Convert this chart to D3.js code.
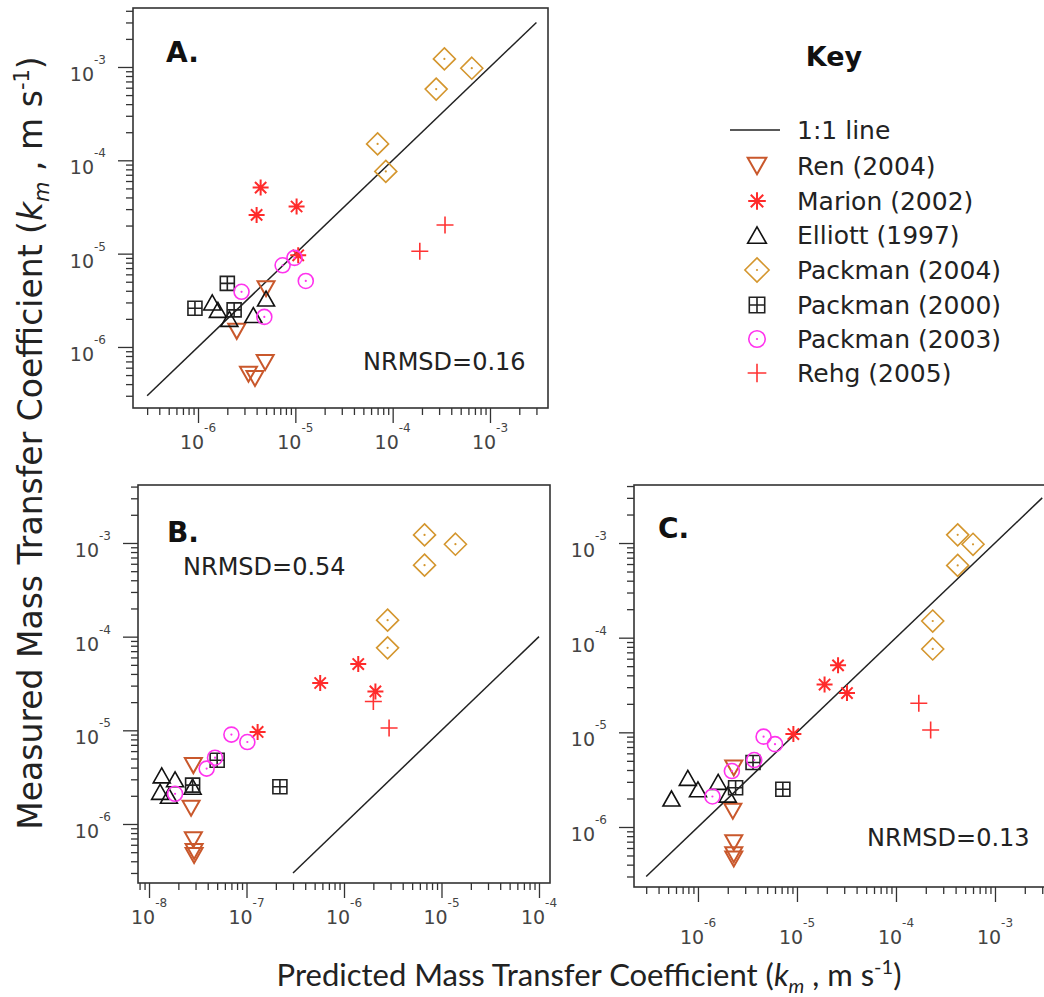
<!DOCTYPE html>
<html>
<head>
<meta charset="utf-8">
<script src="https://cdn.jsdelivr.net/npm/d3@7"></script>
<style>
body { margin: 0; background: #fff; }
svg { display: block; font-family: "DejaVu Sans", sans-serif; }
</style>
</head>
<body>
<svg id="chart" width="1044" height="997"></svg>
<script>
'use strict';

// studies shown in the key
var studies = ["Ren (2004)", "Marion (2002)", "Elliott (1997)", "Packman (2004)",
               "Packman (2000)", "Packman (2003)", "Rehg (2005)"];

// measured km (m/s) - same for every panel; predicted km for panels A, B, C
var renMeasured = [4.2e-6, 1.47e-6, 6.8e-7, 5.1e-7, 4.6e-7];
var renPredA = [5.0e-6, 2.5e-6, 4.9e-6, 3.3e-6, 3.85e-6];
var renPredB = [2.85e-8, 2.7e-8, 2.85e-8, 2.9e-8, 2.9e-8];
var renPredC = [2.3e-6, 2.25e-6, 2.3e-6, 2.3e-6, 2.3e-6];

var marionMeasured = [5.1e-5, 3.2e-5, 2.6e-5, 9.6e-6];
var marionPredA = [4.4e-6, 1.03e-5, 4.0e-6, 1.07e-5];
var marionPredB = [1.4e-6, 5.7e-7, 2.1e-6, 1.3e-7];
var marionPredC = [2.6e-5, 1.9e-5, 3.2e-5, 9.2e-6];

var elliottMeasured = [3.3e-6, 3.0e-6, 2.5e-6, 2.2e-6, 2.0e-6];
var elliottPredA = [5.0e-6, 1.4e-6, 1.6e-6, 3.7e-6, 2.1e-6];
var elliottPredB = [1.35e-8, 1.85e-8, 2.8e-8, 1.3e-8, 1.6e-8];
var elliottPredC = [7.9e-7, 1.6e-6, 1.0e-6, 2.0e-6, 5.4e-7];

var packman04Measured = [1.22e-3, 9.7e-4, 5.8e-4, 1.5e-4, 7.6e-5];
var packman04PredA = [3.4e-4, 6.5e-4, 2.8e-4, 7.0e-5, 8.5e-5];
var packman04PredB = [6.7e-6, 1.39e-5, 6.7e-6, 2.8e-6, 2.8e-6];
var packman04PredC = [4.2e-4, 6.0e-4, 4.2e-4, 2.35e-4, 2.35e-4];

var packman00Measured = [4.8e-6, 2.6e-6, 2.5e-6];
var packman00PredA = [2.0e-6, 9.3e-7, 2.35e-6];
var packman00PredB = [5.0e-8, 2.8e-8, 2.2e-7];
var packman00PredC = [3.6e-6, 2.4e-6, 7.2e-6];

var packman03Measured = [9.0e-6, 7.5e-6, 5.1e-6, 3.9e-6, 2.1e-6];
var packman03PredA = [9.8e-6, 7.4e-6, 1.28e-5, 2.8e-6, 4.8e-6];
var packman03PredB = [7.0e-8, 1.02e-7, 4.75e-8, 3.9e-8, 1.85e-8];
var packman03PredC = [4.6e-6, 6.0e-6, 3.7e-6, 2.2e-6, 1.4e-6];

var rehgMeasured = [2.03e-5, 1.06e-5];
var rehgPredA = [3.45e-4, 1.9e-4];
var rehgPredB = [2.0e-6, 2.9e-6];
var rehgPredC = [1.7e-4, 2.24e-4];

// 1:1 line end points
var oneToOneA = [3e-7, 3e-3];
var oneToOneB = [3e-7, 1e-4];
var oneToOneC = [3e-7, 3e-3];

var nrmsd = ["0.16", "0.54", "0.13"];

var series = [
    { name: studies[0], y: renMeasured, A: renPredA, B: renPredB, C: renPredC, shape: "tridown", color: "#c9582c" },
    { name: studies[1], y: marionMeasured, A: marionPredA, B: marionPredB, C: marionPredC, shape: "star", color: "#ff2b2b" },
    { name: studies[2], y: elliottMeasured, A: elliottPredA, B: elliottPredB, C: elliottPredC, shape: "triup", color: "#111" },
    { name: studies[3], y: packman04Measured, A: packman04PredA, B: packman04PredB, C: packman04PredC, shape: "diamond", color: "#d4962e" },
    { name: studies[4], y: packman00Measured, A: packman00PredA, B: packman00PredB, C: packman00PredC, shape: "boxcross", color: "#222" },
    { name: studies[5], y: packman03Measured, A: packman03PredA, B: packman03PredB, C: packman03PredC, shape: "circle", color: "#ff33ee" },
    { name: studies[6], y: rehgMeasured, A: rehgPredA, B: rehgPredB, C: rehgPredC, shape: "plus", color: "#ff3333" }
];

// panel layout (axis ranges as exponents of ten)
var panels = [
    { key: "A", label: "A.", left: 133, top: 8, right: 548, bottom: 408,
      xExp: [-6.668, -2.404], yExp: [-6.654, -2.368], line: oneToOneA,
      lx: 166, ly: 62, nx: 363, ny: 370, nrmsd: nrmsd[0], xLabelDy: 41 },
    { key: "B", label: "B.", left: 138, top: 485, right: 550, bottom: 883,
      xExp: [-8.113, -3.887], yExp: [-6.630, -2.381], line: oneToOneB,
      lx: 167, ly: 542, nx: 183, ny: 575, nrmsd: nrmsd[1], xLabelDy: 41 },
    { key: "C", label: "C.", left: 634, top: 485, right: 1054, bottom: 887,
      xExp: [-6.646, -2.404], yExp: [-6.634, -2.387], line: oneToOneC,
      lx: 658, ly: 538, nx: 867, ny: 846, nrmsd: nrmsd[2], xLabelDy: 57 }
];

var svg = d3.select("#chart");

// draw one marker shape centred at 0,0
function drawMarker(g, shape, color, k) {
    k = k || 1;
    var sw = 1.6;
    function path(d) {
        return g.append("path").attr("d", d).attr("fill", "none")
            .attr("stroke", color).attr("stroke-width", sw);
    }
    function dot() {
        g.append("circle").attr("r", 1.1).attr("fill", color);
    }
    if (shape == "tridown") {
        path("M" + (-8.5 * k) + "," + (-7.5 * k) + "L" + (8.5 * k) + "," + (-7.5 * k) + "L0," + (7.5 * k) + "Z").attr("stroke-width", 2);
    } else if (shape == "triup") {
        path("M" + (-8.5 * k) + "," + (7.5 * k) + "L" + (8.5 * k) + "," + (7.5 * k) + "L0," + (-7.5 * k) + "Z");
    } else if (shape == "star") {
        var r = 8 * k, q = r * 0.7071;
        path("M" + (-r) + ",0H" + r + "M0," + (-r) + "V" + r +
             "M" + (-q) + "," + (-q) + "L" + q + "," + q + "M" + (-q) + "," + q + "L" + q + "," + (-q)).attr("stroke-width", 2);
    } else if (shape == "diamond") {
        var d = 11 * k;
        path("M0," + (-d) + "L" + d + ",0L0," + d + "L" + (-d) + ",0Z");
        dot();
    } else if (shape == "boxcross") {
        var s = 7 * k;
        path("M" + (-s) + "," + (-s) + "H" + s + "V" + s + "H" + (-s) + "Z" +
             "M" + (-s) + ",0H" + s + "M0," + (-s) + "V" + s);
    } else if (shape == "circle") {
        g.append("circle").attr("r", 7.5 * k).attr("fill", "none")
            .attr("stroke", color).attr("stroke-width", sw);
        dot();
    } else if (shape == "plus") {
        var p = 8.5 * k;
        path("M" + (-p) + ",0H" + p + "M0," + (-p) + "V" + p);
    }
}

function isMajor(v) {
    var l = Math.log10(v);
    return Math.abs(l - Math.round(l)) < 1e-6;
}

// "10" with superscript exponent
function decadeText(t, v) {
    t.append("tspan").text("10");
    t.append("tspan").attr("font-size", 12).attr("dy", -17)
        .text(Math.round(Math.log10(v)));
}

panels.forEach(function(p) {
    var x = d3.scaleLog()
        .domain([Math.pow(10, p.xExp[0]), Math.pow(10, p.xExp[1])])
        .range([p.left, p.right]);
    var y = d3.scaleLog()
        .domain([Math.pow(10, p.yExp[0]), Math.pow(10, p.yExp[1])])
        .range([p.bottom, p.top]);

    var g = svg.append("g").attr("class", "panel-" + p.key);

    var xt = x.ticks(), yt = y.ticks();

    function styleAxis(a) {
        a.select(".domain").remove();
        a.selectAll("line").attr("stroke", "#333").attr("stroke-width", 1.3);
    }

    // minor and major ticks, pointing outwards
    g.append("g").attr("transform", "translate(0," + p.bottom + ")")
        .call(d3.axisBottom(x).tickValues(xt.filter(function(v) { return !isMajor(v); })).tickSize(7).tickFormat(""))
        .call(styleAxis);
    g.append("g").attr("transform", "translate(0," + p.bottom + ")")
        .call(d3.axisBottom(x).tickValues(xt.filter(isMajor)).tickSize(15).tickFormat(""))
        .call(styleAxis);
    g.append("g").attr("transform", "translate(" + p.left + ",0)")
        .call(d3.axisLeft(y).tickValues(yt.filter(function(v) { return !isMajor(v); })).tickSize(7).tickFormat(""))
        .call(styleAxis);
    g.append("g").attr("transform", "translate(" + p.left + ",0)")
        .call(d3.axisLeft(y).tickValues(yt.filter(isMajor)).tickSize(15).tickFormat(""))
        .call(styleAxis);

    // tick labels
    xt.filter(isMajor).forEach(function(v) {
        var t = g.append("text")
            .attr("x", x(v)).attr("y", p.bottom + p.xLabelDy)
            .attr("text-anchor", "middle")
            .attr("font-size", 19).attr("fill", "#444");
        decadeText(t, v);
    });
    yt.filter(isMajor).forEach(function(v) {
        var t = g.append("text")
            .attr("x", p.left - 27).attr("y", y(v) + 14)
            .attr("text-anchor", "end")
            .attr("font-size", 19).attr("fill", "#444");
        decadeText(t, v);
    });

    // frame
    g.append("rect")
        .attr("x", p.left).attr("y", p.top)
        .attr("width", p.right - p.left).attr("height", p.bottom - p.top)
        .attr("fill", "none").attr("stroke", "#333").attr("stroke-width", 1.6);

    // 1:1 line
    g.append("line")
        .attr("x1", x(p.line[0])).attr("y1", y(p.line[0]))
        .attr("x2", x(p.line[1])).attr("y2", y(p.line[1]))
        .attr("stroke", "#222").attr("stroke-width", 1.5);

    // points
    series.forEach(function(s) {
        var preds = s[p.key];
        for (var i = 0; i < s.y.length; i++) {
            var m = g.append("g")
                .attr("transform", "translate(" + x(preds[i]) + "," + y(s.y[i]) + ")");
            drawMarker(m, s.shape, s.color);
        }
    });

    g.append("text").attr("x", p.lx).attr("y", p.ly)
        .attr("font-size", 28).attr("font-weight", "bold").attr("fill", "#111")
        .text(p.label);
    g.append("text").attr("x", p.nx).attr("y", p.ny)
        .attr("font-size", 24).attr("fill", "#222")
        .text("NRMSD=" + p.nrmsd);
});

// key
var key = svg.append("g").attr("class", "key");
key.append("text").attr("x", 834).attr("y", 66)
    .attr("text-anchor", "middle")
    .attr("font-size", 27).attr("font-weight", "bold").attr("fill", "#111")
    .text("Key");

var rowY = [130, 166, 201, 235, 270, 305, 339, 373];
key.append("line").attr("x1", 730).attr("x2", 780)
    .attr("y1", rowY[0]).attr("y2", rowY[0])
    .attr("stroke", "#222").attr("stroke-width", 1.5);
key.append("text").attr("x", 797).attr("y", rowY[0] + 9)
    .attr("font-size", 25).attr("fill", "#222").text("1:1 line");

series.forEach(function(s, i) {
    var m = key.append("g").attr("transform", "translate(757," + rowY[i + 1] + ")");
    drawMarker(m, s.shape, s.color, 1.1);
    key.append("text").attr("x", 797).attr("y", rowY[i + 1] + 9)
        .attr("font-size", 25).attr("fill", "#222").text(s.name);
});

// axis titles
var yTitle = svg.append("text")
    .attr("transform", "translate(42,443) rotate(-90)")
    .attr("text-anchor", "middle")
    .attr("font-size", 33).attr("fill", "#222");
yTitle.append("tspan").text("Measured Mass Transfer Coefficient (");
yTitle.append("tspan").attr("font-style", "italic").text("k");
yTitle.append("tspan").attr("font-style", "italic").attr("font-size", 21).attr("dy", 7).text("m");
yTitle.append("tspan").attr("dy", -7).text(" , m s");
yTitle.append("tspan").attr("font-size", 21).attr("dy", -13).text("-1");
yTitle.append("tspan").attr("dy", 13).text(")");

var xTitle = svg.append("text")
    .attr("x", 589).attr("y", 986)
    .attr("text-anchor", "middle")
    .attr("font-family", "Lato, sans-serif")
    .attr("font-size", 31).attr("fill", "#222");
xTitle.append("tspan").text("Predicted Mass Transfer Coefficient (");
xTitle.append("tspan").attr("font-style", "italic").text("k");
xTitle.append("tspan").attr("font-style", "italic").attr("font-size", 20).attr("dy", 7).text("m");
xTitle.append("tspan").attr("dy", -7).text(" , m s");
xTitle.append("tspan").attr("font-size", 20).attr("dy", -12).text("-1");
xTitle.append("tspan").attr("dy", 12).text(")");
</script>
</body>
</html>
